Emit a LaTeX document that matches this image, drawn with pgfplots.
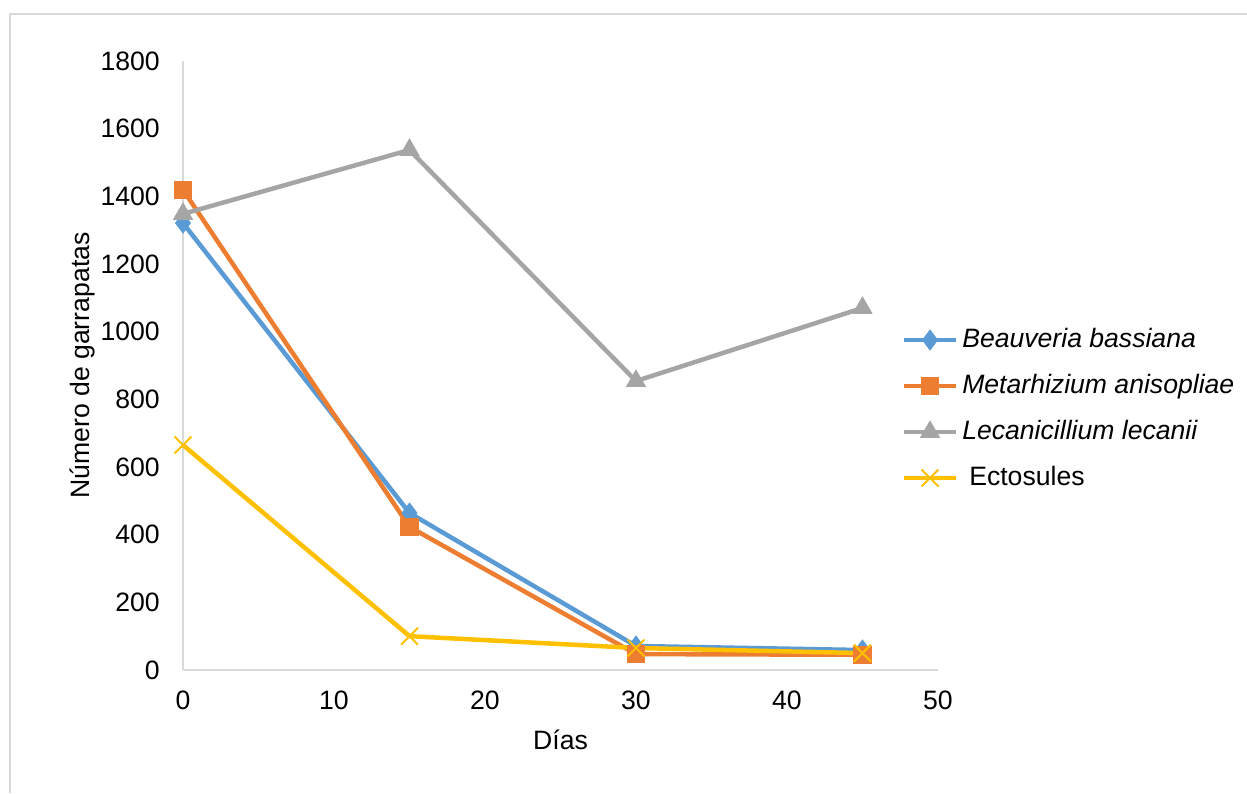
\documentclass[border=0pt]{standalone}
\usepackage{fontspec}
\setmainfont{Liberation Sans}
\usepackage{pgfplots}
\pgfplotsset{compat=1.18}

\definecolor{cblue}{HTML}{5B9BD5}
\definecolor{corange}{HTML}{ED7D31}
\definecolor{cgray}{HTML}{A5A5A5}
\definecolor{cyellow}{HTML}{FFC000}
\definecolor{cframe}{HTML}{D9D9D9}

\begin{document}
\fontsize{13.3}{15.5}\selectfont
\begin{tikzpicture}
\useasboundingbox (0,0) rectangle (623.5pt,396.5pt);
\draw[cframe, line width=0.75pt] (5pt,0) -- (5pt,389.5pt) -- (623.5pt,389.5pt);
\begin{axis}[
    at={(91.5pt,61.5pt)}, anchor=south west,
    scale only axis,
    width=377.5pt, height=304.5pt,
    xmin=0, xmax=50, ymin=0, ymax=1800,
    xtick={0,10,20,30,40,50},
    ytick={0,200,400,600,800,1000,1200,1400,1600,1800},
    axis x line=bottom, axis y line=left,
    axis line style={-, cframe, line width=0.75pt},
    major tick length=0pt,
    /pgf/number format/assume math mode=true,
    /pgf/number format/1000 sep={},
    yticklabel style={xshift=-7pt},
    xticklabel style={yshift=-6pt},
    xlabel={Días}, ylabel={Número de garrapatas},
    xlabel style={at={(axis description cs:0.5,-0.1149)}, anchor=center},
    ylabel style={at={(axis description cs:-0.1338,0.5)}, anchor=center},
    clip=false,
    legend style={at={(axis description cs:0.9515,0.4285)}, anchor=west,
        draw=none, fill=none, inner sep=0pt, row sep=10pt, column sep=2pt,
        nodes={inner sep=0pt, text height=10pt, text depth=3pt, anchor=west}},
    legend cell align=left,
    legend image code/.code={\draw[mark repeat=2,mark phase=2]
        plot coordinates {(0pt,0pt) (13pt,0pt) (26pt,0pt)};},
    every axis plot/.append style={line width=2.25pt},
]
\addplot[cblue, mark=diamond*, mark size=5pt, mark options={solid, line width=0.4pt, fill=cblue}]
    coordinates {(0,1321) (15,464) (30,71) (45,59)};
\addplot[corange, mark=square*, mark size=4.3pt, mark options={solid, line width=0.4pt, fill=corange}]
    coordinates {(0,1419) (15,423) (30,47) (45,45)};
\addplot[cgray, mark=triangle*, mark size=5.5pt, mark options={solid, line width=0.4pt, fill=cgray}]
    coordinates {(0,1348) (15,1537) (30,854) (45,1070)};
\addplot[cyellow, mark=x, mark size=6pt, mark options={solid, line width=1pt}]
    coordinates {(0,665) (15,100) (30,65) (45,50)};
\legend{\textit{Beauveria bassiana}, \textit{Metarhizium anisopliae}, \textit{Lecanicillium lecanii}, \hspace{3.5pt}Ectosules}
\end{axis}
\end{tikzpicture}
\end{document}
